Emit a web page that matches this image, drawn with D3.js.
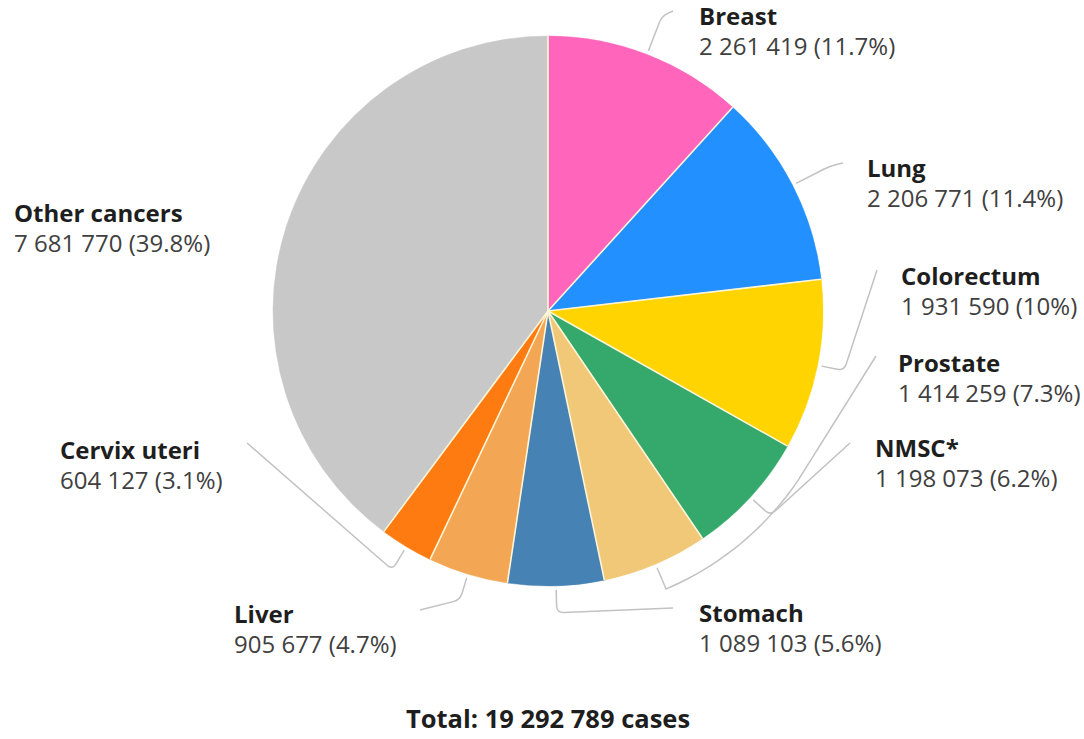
<!DOCTYPE html>
<html>
<head>
<meta charset="utf-8">
<script src="https://cdn.jsdelivr.net/npm/d3@7"></script>
<style>
  html, body { margin: 0; padding: 0; background: #fff; }
  svg { display: block; font-family: "Open Sans", "Noto Sans", sans-serif; }
</style>
</head>
<body>
<svg id="chart" width="1084" height="739"></svg>
<script>
// Estimated new cancer cases, both sexes, all ages
const categories = ["Breast", "Lung", "Colorectum", "Prostate", "NMSC*", "Stomach", "Liver", "Cervix uteri", "Other cancers"];
const cases = [2261419, 2206771, 1931590, 1414259, 1198073, 1089103, 905677, 604127, 7681770];
const sliceColors = ["#ff66bb", "#2290fe", "#ffd400", "#35a86b", "#f0c878", "#4682b4", "#f3a653", "#fd7b10", "#c8c8c8"];
const totalLabel = "Total: 19 292 789 cases";

const W = 1084, H = 739;
const cx = 548, cy = 311, R = 275;

const svg = d3.select("#chart");
const total = d3.sum(cases);
const locale = d3.formatLocale({ decimal: ".", thousands: "\u00a0", grouping: [3], currency: ["", ""] });
const fmtNum = locale.format(",d");
const fmtPct = v => {
  const s = (v / total * 100).toFixed(1);
  return (s.endsWith(".0") ? s.slice(0, -2) : s) + "%";
};

const data = categories.map((name, i) => ({ name, value: cases[i], color: sliceColors[i] }));

const pie = d3.pie().value(d => d.value).sort(null);
const arcs = pie(data);
const arcGen = d3.arc().innerRadius(0).outerRadius(R);

// polar helper: angle measured clockwise from 12 o'clock, radius in px (relative to centre)
const polarRel = (a, r) => [r * Math.sin(a), -r * Math.cos(a)];
const polar = (a, r) => { const [x, y] = polarRel(a, r); return [cx + x, cy + y]; };
const deg = Math.PI / 180;

const g = svg.append("g").attr("transform", `translate(${cx},${cy})`);
g.selectAll("path.slice")
  .data(arcs)
  .enter().append("path")
  .attr("class", "slice")
  .attr("d", arcGen)
  .attr("fill", d => d.data.color)
  .attr("stroke", d => d.data.color)
  .attr("stroke-width", 0.5);

// thin pale separators along slice boundaries
g.selectAll("line.sep")
  .data(arcs)
  .enter().append("line")
  .attr("class", "sep")
  .attr("x1", 0).attr("y1", 0)
  .attr("x2", d => polarRel(d.startAngle, R)[0])
  .attr("y2", d => polarRel(d.startAngle, R)[1])
  .attr("stroke", "#fff6d8")
  .attr("stroke-width", 1.6);

// Connector routes keyed by slice index: elbow radius offset, optional arc sweep, end point
const connectors = [
  { slice: 0, elbow: 41, end: [673, 11] },
  { slice: 1, elbow: 42, end: [843, 163] },
  { slice: 2, elbow: 27, end: [877, 270] },
  { slice: 3, elbow: 27, end: [850, 443] },
  { slice: 4, elbow: 27, arcTo: 124, end: [876, 356] },
  { slice: 5, elbow: 27, end: [673, 608] },
  { slice: 6, elbow: 27, end: [420, 610] },
  { slice: 7, elbow: 27, end: [247, 443] }
];

// polyline with softened corners
function roundedPath(pts, rad) {
  const p = d3.path();
  p.moveTo(pts[0][0], pts[0][1]);
  for (let i = 1; i < pts.length - 1; i++) {
    const [x0, y0] = pts[i - 1], [x1, y1] = pts[i], [x2, y2] = pts[i + 1];
    const d1 = Math.hypot(x1 - x0, y1 - y0), d2 = Math.hypot(x2 - x1, y2 - y1);
    const r1 = Math.min(rad, d1 / 2), r2 = Math.min(rad, d2 / 2);
    p.lineTo(x1 - (x1 - x0) / d1 * r1, y1 - (y1 - y0) / d1 * r1);
    p.quadraticCurveTo(x1, y1, x1 + (x2 - x1) / d2 * r2, y1 + (y2 - y1) / d2 * r2);
  }
  const last = pts[pts.length - 1];
  p.lineTo(last[0], last[1]);
  return p.toString();
}

const connLayer = svg.append("g");
connectors.forEach(c => {
  const a = arcs[c.slice];
  const mid = (a.startAngle + a.endAngle) / 2;
  const pts = [polar(mid, R + 4), polar(mid, R + c.elbow)];
  if (c.arcTo !== undefined) {
    const steps = 24;
    for (let k = 1; k <= steps; k++) {
      const ang = mid + (c.arcTo * deg - mid) * k / steps;
      pts.push(polar(ang, R + c.elbow));
    }
  }
  pts.push(c.end);
  connLayer.append("path")
    .attr("d", c.arcTo !== undefined ? d3.line().curve(d3.curveLinear)(pts) : roundedPath(pts, 7))
    .attr("fill", "none")
    .attr("stroke", "#c2c2c2")
    .attr("stroke-width", 1.5);
});

// Label anchors (left edge x, baseline y of the name line)
const labelPos = [
  [699, 25], [867, 177], [901, 285], [898, 372], [875, 457],
  [699, 622], [234, 623], [60, 459], [14, 222]
];

const labels = svg.append("g").selectAll("g.lbl")
  .data(data)
  .enter().append("g")
  .attr("class", "lbl")
  .attr("transform", (d, i) => `translate(${labelPos[i][0]},${labelPos[i][1]})`);

labels.append("text")
  .attr("font-size", 24)
  .attr("font-weight", 700)
  .attr("fill", "#1e1e1e")
  .text(d => d.name);

labels.append("text")
  .attr("y", 30)
  .attr("font-size", 24)
  .attr("fill", "#404040")
  .text(d => `${fmtNum(d.value)} (${fmtPct(d.value)})`);

svg.append("text")
  .attr("x", cx)
  .attr("y", 728)
  .attr("text-anchor", "middle")
  .attr("font-size", 25.5)
  .attr("font-weight", 700)
  .attr("fill", "#1e1e1e")
  .text(totalLabel);
</script>
</body>
</html>
